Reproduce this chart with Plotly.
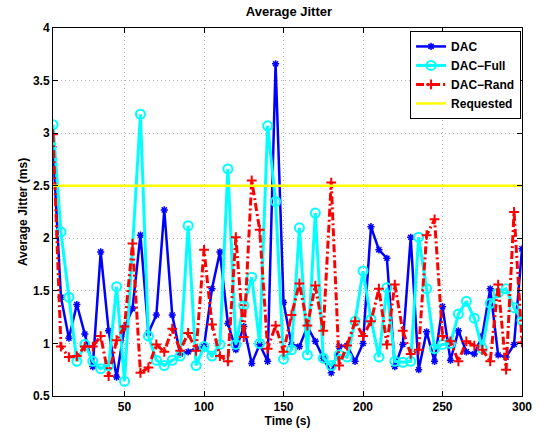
import plotly.graph_objects as go

time_s = list(range(5, 305, 5))

dac = [2.87, 1.44, 1.05, 1.37, 1.09, 0.78, 1.87, 1.12, 0.68, 1.15,
       1.33, 2.03, 1.10, 1.27, 2.27, 1.27, 0.90, 0.92, 0.95, 0.97,
       1.52, 1.87, 1.19, 0.94, 1.16, 0.81, 0.99, 0.83, 3.66, 1.39,
       0.99, 0.97, 1.16, 1.02, 0.86, 0.72, 0.97, 0.98, 0.83, 1.00,
       2.11, 1.89, 1.81, 0.78, 0.99, 2.01, 0.75, 1.11, 0.83, 1.35,
       0.84, 1.12, 0.92, 0.90, 1.07, 1.52, 0.89, 0.87, 0.99, 1.90]

dac_full = [3.08, 2.06, 1.44, 0.83, 0.99, 0.83, 0.76, 0.79, 1.54, 0.64,
            None, 3.18, 1.07, 0.84, 0.79, 0.84, 0.88, 2.12, 0.79, 0.97,
            0.88, 0.99, 2.66, 0.99, 1.36, 1.63, 1.00, 3.07, 2.35, 0.85,
            0.94, 2.10, 0.89, 2.24, 0.86, 0.79, 0.89, 0.87, 1.21, 1.69,
            1.23, 0.87, 1.53, 0.83, 0.82, 0.83, 2.01, 1.52, 0.95, 0.99,
            1.00, 1.28, 1.40, 1.24, 0.95, 1.38, 1.48, 1.52, 1.34, 1.22]

dac_rand = [2.99, 0.97, 0.87, 0.88, 0.97, 0.97, 1.07, 0.69, 1.03, 1.16,
            1.95, 0.72, 0.77, 0.99, 0.92, 1.14, 0.93, 1.10, 0.93, 1.89,
            1.18, 0.88, 0.83, 2.01, 1.06, 2.55, 2.08, 0.95, 1.17, 0.92,
            1.27, 1.57, 1.17, 1.55, 1.12, 2.53, 0.79, 0.98, 1.21, 1.07,
            1.21, 1.52, 0.99, 1.56, 1.12, 0.90, 0.94, 2.03, 2.18, 1.07,
            1.02, 0.83, 1.02, 0.98, 0.94, 0.83, 1.56, 0.75, 2.25, 1.01]

requested = [2.5] * len(time_s)

x_ticks = [50, 100, 150, 200, 250, 300]
y_ticks = [0.5, 1, 1.5, 2, 2.5, 3, 3.5, 4]

fig = go.Figure()
fig.add_trace(go.Scatter(
    x=time_s, y=dac, name="DAC", mode="lines+markers",
    line=dict(color="#0000FF", width=2.5),
    marker=dict(symbol="asterisk-open", size=6, line=dict(color="#0000FF", width=1.5))))
fig.add_trace(go.Scatter(
    x=time_s, y=dac_full, name="DAC\u2212Full", mode="lines+markers", connectgaps=True,
    line=dict(color="#00FFFF", width=3),
    marker=dict(symbol="circle-open", size=9, color="#00FFFF", line=dict(color="#00FFFF", width=2))))
fig.add_trace(go.Scatter(
    x=time_s, y=dac_rand, name="DAC\u2212Rand", mode="lines+markers",
    line=dict(color="#FF0000", width=3, dash="8px,3px,2px,3px"),
    marker=dict(symbol="cross-thin-open", size=7, line=dict(color="#FF0000", width=2))))
fig.add_trace(go.Scatter(
    x=time_s, y=requested, name="Requested", mode="lines",
    line=dict(color="#FFFF00", width=2.5)))

fam = "Liberation Sans, Arial, sans-serif"
font_b = dict(family=fam, size=12, color="black", weight="bold")

fig.update_layout(
    width=540, height=432,
    margin=dict(l=53, r=18, t=28, b=36, autoexpand=False),
    paper_bgcolor="white", plot_bgcolor="white",
    font=font_b,
    title=dict(text="<b>Average Jitter</b>", x=0.535, xanchor="center", y=0.985, yanchor="top",
               font=dict(family=fam, size=13, color="black")),
    showlegend=True,
    legend=dict(x=0.998, y=0.992, xanchor="right", yanchor="top",
                bgcolor="white", bordercolor="black", borderwidth=1,
                font=dict(family=fam, size=12, color="black", weight="bold"),
                tracegroupgap=0, itemwidth=30),
    xaxis=dict(range=[5, 300], tickvals=x_ticks, ticks="inside", ticklen=5, tickcolor="black",
               showline=True, linecolor="black", linewidth=1, mirror="ticks", automargin=False,
               showgrid=True, gridcolor="#b4b4b4", griddash="1px,3px", gridwidth=1, zeroline=False,
               title=dict(text="<b>Time (s)</b>", standoff=2, font=dict(size=12)),
               tickfont=dict(size=12)),
    yaxis=dict(range=[0.5, 4], tickvals=y_ticks, ticks="inside", ticklen=5, tickcolor="black",
               showline=True, linecolor="black", linewidth=1, mirror="ticks", automargin=False,
               showgrid=True, gridcolor="#b4b4b4", griddash="1px,3px", gridwidth=1, zeroline=False,
               title=dict(text="<b>Average Jitter (ms)</b>", standoff=2, font=dict(size=12)),
               tickfont=dict(size=12)),
)

fig.write_html("out.html", config={"displayModeBar": False},
               post_script="document.body.style.margin='0';")
